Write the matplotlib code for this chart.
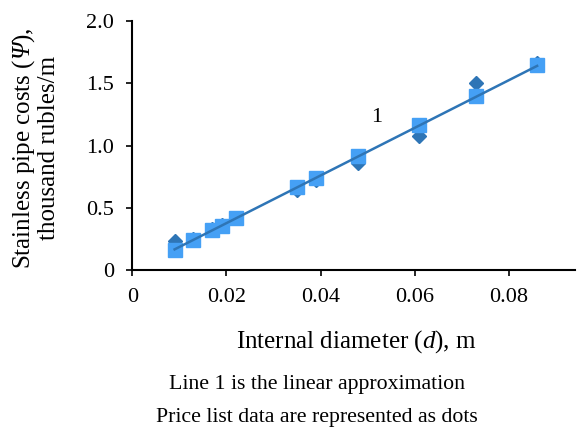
import matplotlib.pyplot as plt

plt.rcParams['font.family'] = 'Liberation Serif'
plt.rcParams['mathtext.fontset'] = 'custom'
plt.rcParams['mathtext.rm'] = 'Liberation Serif'
plt.rcParams['mathtext.it'] = 'Liberation Serif:italic'
# italic Greek capital (mathtext keeps Greek capitals upright in "it")
plt.rcParams['mathtext.sf'] = 'Liberation Serif:italic'

# price list data (diamonds) and approximation points (squares)
diam = [0.009, 0.013, 0.017, 0.019, 0.022, 0.035, 0.039, 0.048, 0.061, 0.073, 0.086]
price = [0.23, 0.25, 0.33, 0.36, 0.42, 0.64, 0.72, 0.86, 1.076, 1.505, 1.66]
approx = [0.16, 0.24, 0.32, 0.356, 0.415, 0.67, 0.74, 0.92, 1.165, 1.40, 1.647]
line_d = [0.009, 0.086]
line_v = [0.166, 1.64]
xticks = [0, 0.02, 0.04, 0.06, 0.08]
xtick_labels = ['0', '0.02', '0.04', '0.06', '0.08']
yticks = [0, 0.5, 1.0, 1.5, 2.0]
ytick_labels = ['0', '0.5', '1.0', '1.5', '2.0']

fig = plt.figure(figsize=(5.8, 4.3), dpi=100)
ax = fig.add_axes([0.228, 0.372, 0.763, 0.579])

ax.plot(diam, price, 'D', color='#2e75b6', markersize=7.5, zorder=2)
ax.plot(diam, approx, 's', color='#45a0f5', markersize=10.5, zorder=3)
ax.plot(line_d, line_v, '-', color='#2e75b6', linewidth=1.8, zorder=4)
ax.text(0.0519, 1.229, '1', fontsize=16, ha='center', va='center')

ax.set_xlim(0, 0.094)
ax.set_ylim(0, 2.0)
ax.set_xticks(xticks)
ax.set_xticklabels(xtick_labels)
ax.set_yticks(yticks)
ax.set_yticklabels(ytick_labels)
ax.tick_params(direction='out', length=4, width=1.2, pad=9, labelsize=16, colors='black')
ax.spines['top'].set_visible(False)
ax.spines['right'].set_visible(False)
for s in ['left', 'bottom']:
    ax.spines[s].set_linewidth(1.5)

fig.text(0.615, 0.205, r'Internal diameter ($\mathit{d}$), m', fontsize=18,
         ha='center', va='center')
fig.text(0.061, 0.655, 'Stainless pipe costs ($\\mathsf{Ψ}$),\nthousand rubles/m',
         fontsize=18, ha='center', va='center', rotation=90, linespacing=1.05)
fig.text(0.546, 0.105, 'Line 1 is the linear approximation', fontsize=15.7,
         ha='center', va='center')
fig.text(0.546, 0.028, 'Price list data are represented as dots', fontsize=15.7,
         ha='center', va='center')

fig.savefig('out.png')
